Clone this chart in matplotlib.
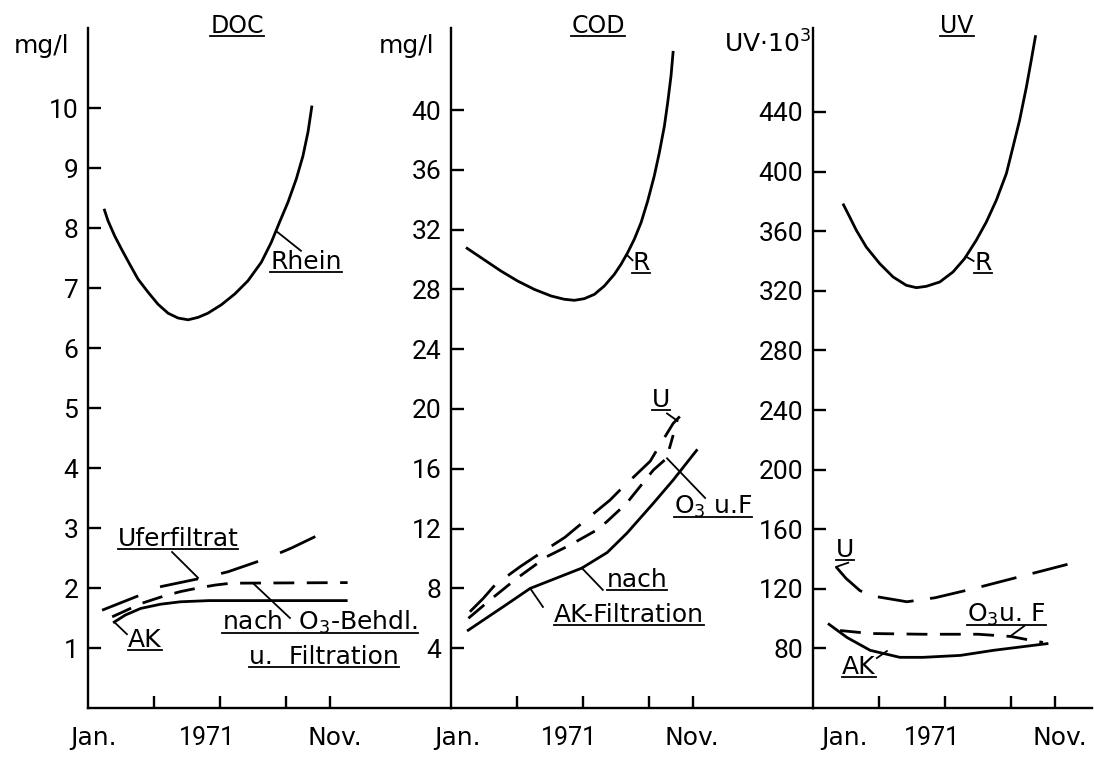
import matplotlib
matplotlib.use("Agg")
import matplotlib.pyplot as plt
from matplotlib import font_manager
from matplotlib.lines import Line2D

# ---------------- data (months after 1 Jan 1971) ----------------
doc_rhein_x = [0.73, 0.91, 1.21, 1.52, 1.89, 2.27, 2.73, 3.18, 3.64, 4.09, 4.55, 5.0,
               5.45, 6.06, 6.67, 7.27, 7.88, 8.33, 8.71, 9.09, 9.47, 9.77, 10.0, 10.18]
doc_rhein = [8.32, 8.12, 7.87, 7.65, 7.4, 7.15, 6.93, 6.73, 6.58, 6.5, 6.47, 6.51,
             6.58, 6.72, 6.9, 7.12, 7.43, 7.76, 8.1, 8.43, 8.82, 9.2, 9.6, 10.04]
doc_ufer_x = [0.64, 2.36, 3.27, 5.23, 6.36, 8.18, 9.27, 11.14]
doc_ufer = [1.63, 1.88, 2.02, 2.17, 2.27, 2.5, 2.67, 3.0]
doc_o3_x = [1.1, 1.7, 2.4, 3.4, 4.2, 5.0, 5.8, 6.5, 11.8]
doc_o3 = [1.52, 1.62, 1.74, 1.86, 1.94, 2.0, 2.05, 2.08, 2.09]
doc_ak_x = [1.14, 1.7, 2.4, 3.3, 4.2, 5.5, 11.8]
doc_ak = [1.42, 1.55, 1.66, 1.73, 1.77, 1.79, 1.79]

cod_r_x = [0.68, 1.52, 2.27, 3.03, 3.79, 4.55, 5.15, 5.61, 6.06, 6.52, 6.97, 7.42,
           7.73, 8.03, 8.33, 8.64, 8.94, 9.24, 9.47, 9.7, 9.85, 10.0, 10.1]
cod_r = [30.8, 29.97, 29.23, 28.56, 28.0, 27.56, 27.34, 27.27, 27.38, 27.67, 28.23, 29.0,
         29.68, 30.46, 31.35, 32.47, 33.91, 35.59, 37.15, 38.93, 40.5, 42.27, 43.95]
cod_u_x = [0.86, 1.47, 2.0, 3.14, 3.82, 5.18, 5.94, 7.23, 7.68, 9.05, 9.5, 10.1, 10.4]
cod_u = [6.44, 7.34, 8.23, 9.45, 10.12, 11.42, 12.35, 13.91, 14.58, 16.5, 17.6, 19.04, 19.5]
cod_o3_x = [0.79, 1.77, 2.99, 4.35, 5.41, 6.62, 7.08, 7.98, 9.2, 9.8, 10.1]
cod_o3 = [6.0, 7.22, 8.67, 10.12, 10.9, 11.9, 12.46, 13.69, 15.92, 16.7, 18.26]
cod_ak_x = [0.73, 2.36, 3.6, 5.95, 7.1, 8.0, 9.2, 10.1, 11.2]
cod_ak = [5.15, 6.76, 8.0, 9.36, 10.4, 11.7, 13.7, 15.25, 17.3]

uv_r_x = [1.36, 1.67, 1.97, 2.42, 3.03, 3.64, 4.24, 4.7, 5.15, 5.76, 6.36, 6.89,
          7.42, 7.88, 8.33, 8.79, 9.09, 9.39, 9.7, 9.92, 10.12]
uv_r = [378.5, 369.5, 360.6, 349.4, 338.3, 329.3, 323.7, 322.1, 323.0, 325.9, 332.6, 341.6,
        353.9, 366.2, 380.7, 398.7, 416.5, 434.4, 456.8, 474.7, 491.5]
uv_u_x = [1.05, 1.5, 2.14, 2.9, 4.27, 5.55, 7.27, 9.55, 11.8]
uv_u = [134.7, 127, 118.7, 114.7, 111.3, 114, 120, 128.7, 137.3]
uv_o3_x = [1.23, 2.6, 5.0, 7.5, 9.0, 9.7, 10.45]
uv_o3 = [92, 90, 89.5, 89.5, 88, 86, 84]
uv_ak_x = [0.68, 1.55, 2.6, 3.95, 5.0, 6.7, 8.2, 10.7]
uv_ak = [96.7, 87.3, 78.7, 74, 74, 75.3, 78.7, 83.3]

doc_ticks = [1, 2, 3, 4, 5, 6, 7, 8, 9, 10]
cod_ticks = [4, 8, 12, 16, 20, 24, 28, 32, 36, 40]
uv_ticks = [80, 120, 160, 200, 240, 280, 320, 360, 400, 440]
month_ticks = [3, 6, 9, 11]
month_labels = ["Jan.", "1971", "Nov."]

# ---------------- fonts ----------------
available = {f.name for f in font_manager.fontManager.ttflist}
num_font = "Roboto" if "Roboto" in available else "DejaVu Sans"
plt.rcParams['font.family'] = ['DejaVu Sans']
plt.rcParams['mathtext.fontset'] = 'dejavusans'

W, H = 1094, 758
fig = plt.figure(figsize=(W / 100, H / 100), dpi=100)
fig.patch.set_facecolor("white")

BOT, TOP = 708, 28          # pixel rows of the x axis and the top of the y axes
PX_PER_MONTH = 22


def make_panel(x0, x1, ymin, ymax, ticks):
    ax = fig.add_axes([x0 / W, (H - BOT) / H, (x1 - x0) / W, (BOT - TOP) / H])
    ax.set_xlim(0, (x1 - x0) / PX_PER_MONTH)
    ax.set_ylim(ymin, ymax)
    ax.patch.set_alpha(0)
    for s in ("top", "right"):
        ax.spines[s].set_visible(False)
    for s in ("left", "bottom"):
        ax.spines[s].set_linewidth(1.7)
    ax.tick_params(direction="in", length=9, width=1.7, pad=7)
    ax.set_xticks(month_ticks)
    ax.set_xticklabels([])
    ax.set_yticks(ticks)
    ax.set_yticklabels([str(t) for t in ticks], fontfamily=num_font, fontsize=19)
    return ax


ax1 = make_panel(88, 451, 0, (BOT - TOP) / 60, doc_ticks)
ax2 = make_panel(451, 813, 0, (BOT - TOP) / 14.95, cod_ticks)
ax3 = make_panel(813, 1092, 40, 40 + (BOT - TOP) / 1.49, uv_ticks)

LW = 2.0
LONG = (0, (13, 6))
SHORT = (0, (7.5, 4.5))
kw = dict(color="black", lw=LW, solid_capstyle="butt", dash_capstyle="butt",
          solid_joinstyle="round")

# DOC
ax1.plot(doc_rhein_x, doc_rhein, **kw)
ax1.plot(doc_ufer_x, doc_ufer, ls=(0, (14, 8.5)), **kw)
ax1.plot(doc_o3_x, doc_o3, ls=SHORT, **kw)
ax1.plot(doc_ak_x, doc_ak, **kw)
# COD
ax2.plot(cod_r_x, cod_r, **kw)
ax2.plot(cod_u_x, cod_u, ls=LONG, **kw)
ax2.plot(cod_o3_x, cod_o3, ls=SHORT, **kw)
ax2.plot(cod_ak_x, cod_ak, **kw)
# UV
ax3.plot(uv_r_x, uv_r, **kw)
ax3.plot(uv_u_x, uv_u, ls=LONG, **kw)
ax3.plot(uv_o3_x, uv_o3, ls=SHORT, **kw)
ax3.plot(uv_ak_x, uv_ak, **kw)

underlined = []


def label(ax, x, y, s, size=18, ul=True, family=None):
    t = ax.text(x, y, s, ha="center", va="baseline", fontsize=size,
                clip_on=False, family=family)
    if ul:
        underlined.append((ax, t, x, y))
    return t


def leader(ax, x0, y0, x1, y1):
    ax.plot([x0, x1], [y0, y1], color="black", lw=1.3, clip_on=False)


# titles
label(ax1, 6.77, 11.25, "DOC", size=17)
label(ax2, 6.68, 45.15, "COD", size=17)
label(ax3, 6.55, 493, "UV", size=17)

# unit labels
fig.text(42 / W, (H - 53) / H, "mg/l", ha="center", va="baseline", fontsize=18)
fig.text(407 / W, (H - 53) / H, "mg/l", ha="center", va="baseline", fontsize=18)
fig.text(811 / W, (H - 53) / H, r"UV$\cdot$10$^3$", ha="right", va="baseline", fontsize=18)

# DOC labels
label(ax1, 9.9, 7.32, "Rhein")
leader(ax1, 8.55, 7.95, 9.68, 7.62)
label(ax1, 4.09, 2.7, "Uferfiltrat")
leader(ax1, 3.82, 2.6, 5.0, 2.17)
label(ax1, 2.59, 1.02, "AK")
leader(ax1, 1.2, 1.43, 1.77, 1.23)
label(ax1, 10.55, 1.3, r"nach  O$_3$-Behdl.")
leader(ax1, 7.5, 2.08, 9.18, 1.5)
label(ax1, 10.73, 0.733, "u.  Filtration")

# COD labels
label(ax2, 8.64, 29.3, "R")
leader(ax2, 8.0, 30.3, 8.25, 29.95)
label(ax2, 9.55, 20.13, "U")
leader(ax2, 9.82, 19.7, 10.3, 19.2)
label(ax2, 11.9, 12.98, r"O$_3$ u.F")
leader(ax2, 9.82, 16.7, 11.55, 14.05)
label(ax2, 8.45, 8.09, "nach")
leader(ax2, 5.95, 9.36, 6.9, 7.9)
label(ax2, 8.1, 5.75, "AK-Filtration")
leader(ax2, 3.6, 8.0, 4.18, 6.76)

# UV labels
label(ax3, 7.73, 334, "R")
leader(ax3, 6.95, 343, 7.3, 340)
label(ax3, 1.45, 141.3, "U")
leader(ax3, 1.05, 134.7, 1.6, 137.5)
label(ax3, 8.8, 97.7, r"O$_3$u. F")
leader(ax3, 9.0, 88.5, 9.6, 95)
label(ax3, 2.09, 62.8, "AK")
leader(ax3, 2.9, 73.5, 3.36, 78.2)

# month labels under each panel
month_pos = {ax1: [0.27, 5.4, 11.2], ax2: [0.32, 5.36, 10.95], ax3: [1.45, 5.4, 11.2]}
for ax, xs in month_pos.items():
    for x, s in zip(xs, month_labels):
        fam = num_font if s.isdigit() else "DejaVu Sans"
        ax.annotate(s, xy=(x, 0), xycoords=("data", "axes fraction"),
                    xytext=(0, -21.6), textcoords="offset points",
                    ha="center", va="center", fontsize=18, family=fam,
                    annotation_clip=False)

# underlines placed just below each label's baseline
fig.canvas.draw()
renderer = fig.canvas.get_renderer()
for ax, t, x, y in underlined:
    bb = t.get_window_extent(renderer)
    _, base = ax.transData.transform((x, y))
    yy = base - 3
    fig.add_artist(Line2D([bb.x0 / W, bb.x1 / W], [yy / H, yy / H],
                          transform=fig.transFigure, color="black", lw=1.3))

fig.savefig("out.png", dpi=100, facecolor="white")
